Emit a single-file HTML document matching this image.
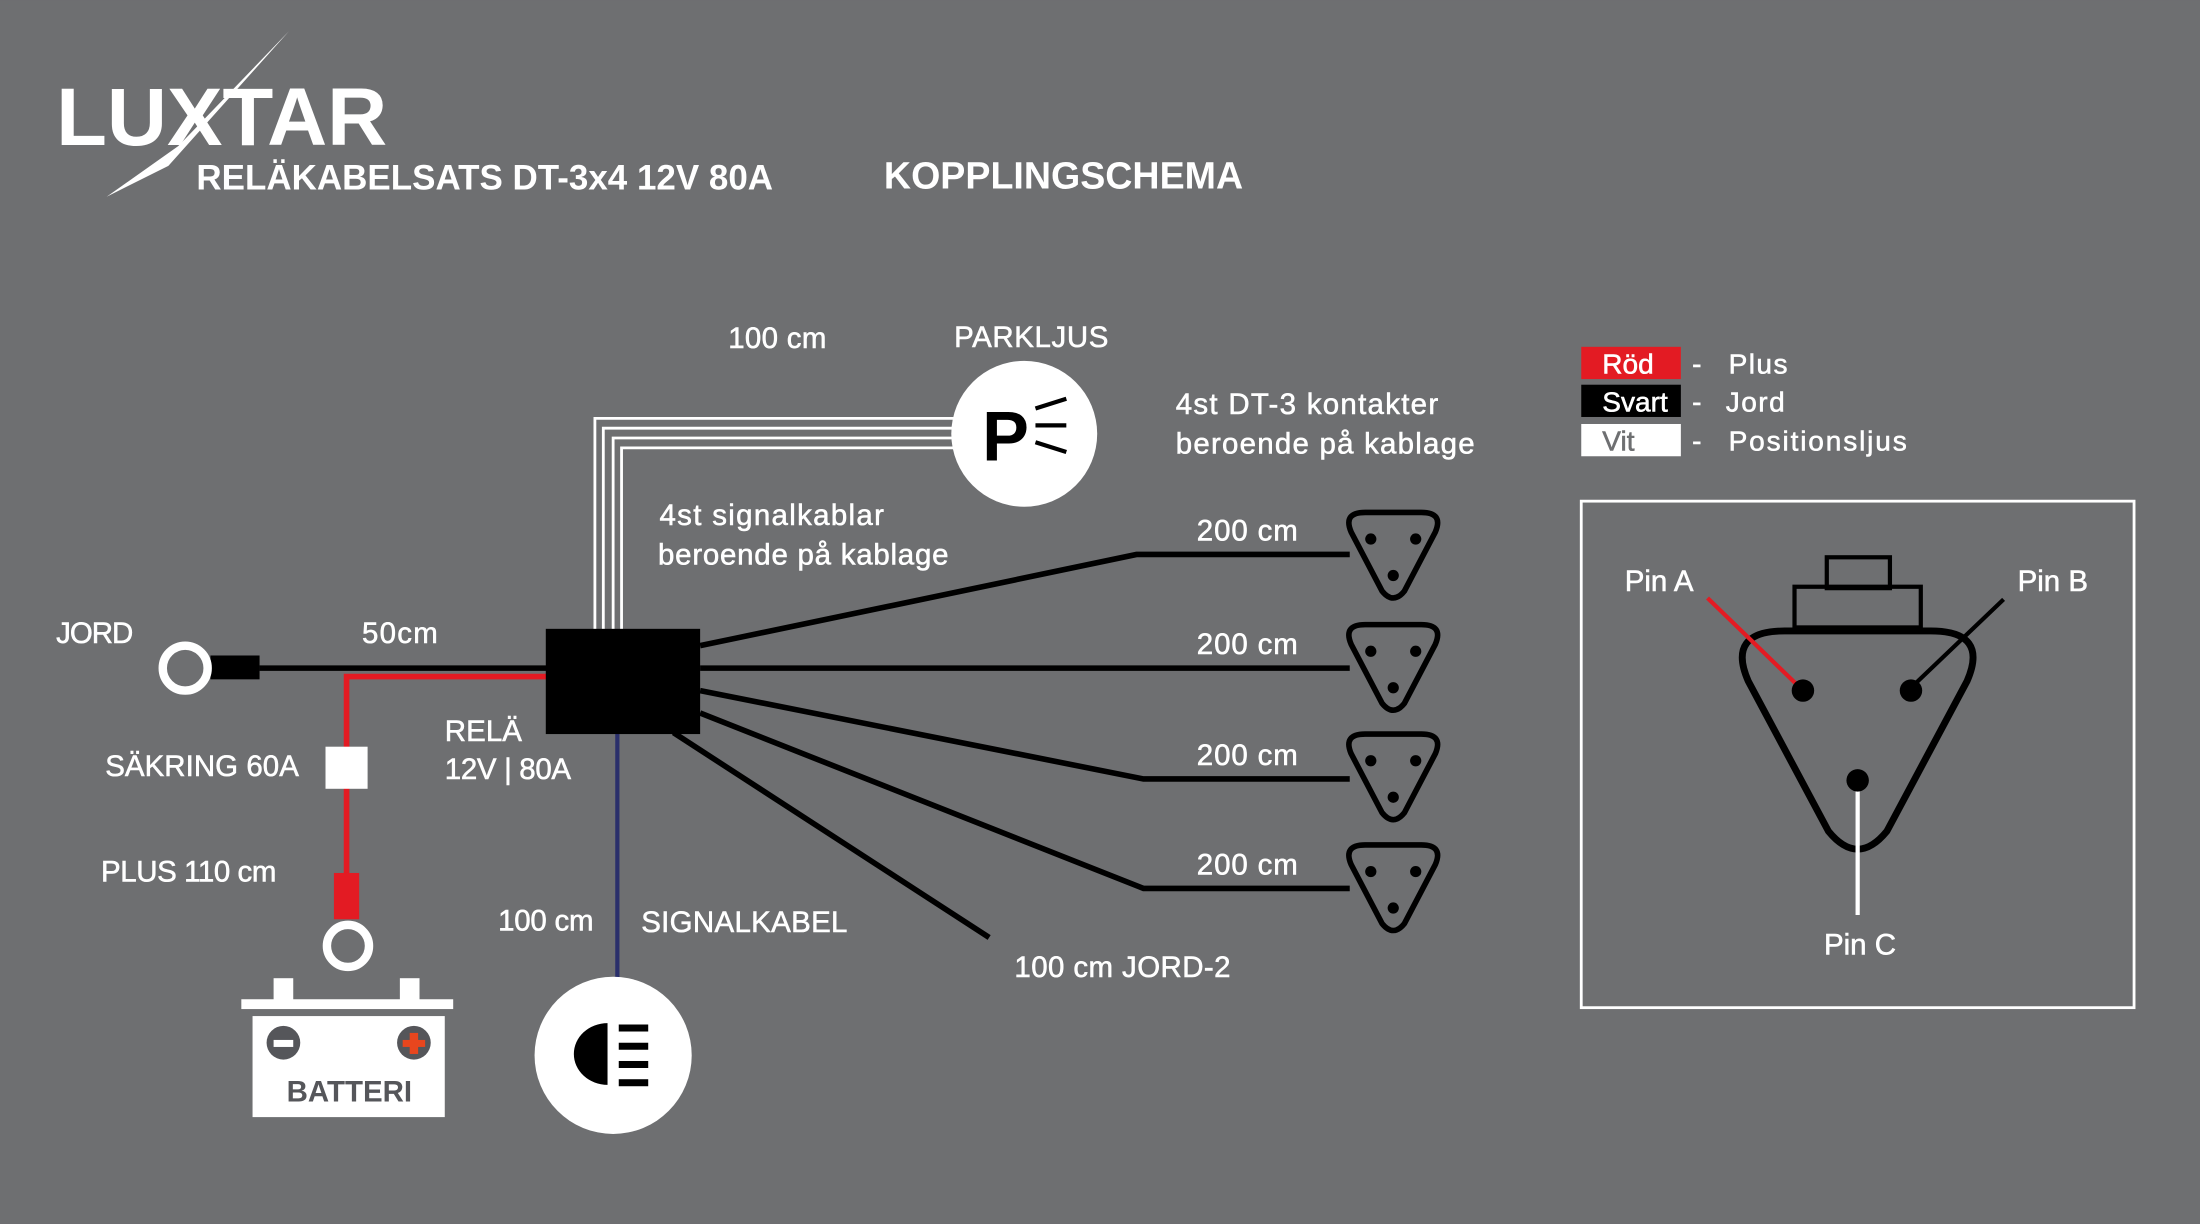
<!DOCTYPE html>
<html><head><meta charset="utf-8"><style>
html,body{margin:0;padding:0;background:#6e6f71;}
svg{display:block}
text{font-family:"Liberation Sans","DejaVu Sans",sans-serif;fill:#fff;}
.l text{stroke:#fff;stroke-width:0.4;}
</style></head><body>
<svg width="2200" height="1224" viewBox="0 0 1568 872" xmlns="http://www.w3.org/2000/svg">
<rect width="1568" height="872" fill="#6e6f71"/>
<defs>
<path id="conn" d="M-20,-30 L20,-30 Q36,-30 30,-16 L8,26 Q0,36 -8,26 L-30,-16 Q-36,-30 -20,-30 Z"/>
</defs>
<text x="40" y="103" font-size="58" font-weight="bold" textLength="236" lengthAdjust="spacingAndGlyphs">LUXTAR</text>
<polygon points="206,22 120,118 76,140 127,104" fill="#fff"/>
<text x="140" y="135" font-size="25" font-weight="bold" textLength="411" lengthAdjust="spacingAndGlyphs">RELÄKABELSATS DT-3x4 12V 80A</text>
<text x="630" y="134" font-size="27" font-weight="bold" textLength="256" lengthAdjust="spacingAndGlyphs">KOPPLINGSCHEMA</text>

<g fill="none" stroke="#fff" stroke-width="2">
<polyline points="424,450 424,298 690,298"/>
<polyline points="430,450 430,305 690,305"/>
<polyline points="437,450 437,312 690,312"/>
<polyline points="443,450 443,319 690,319"/>
</g>
<circle cx="730" cy="309" r="52" fill="#fff"/>
<text x="700" y="328" font-size="50" font-weight="bold" style="fill:#000">P</text>
<g stroke="#000" stroke-width="3"><line x1="738" y1="291" x2="760" y2="284"/><line x1="738" y1="303" x2="760" y2="303"/><line x1="738" y1="315" x2="760" y2="322"/></g>

<line x1="185" y1="476" x2="392" y2="476" stroke="#000" stroke-width="4"/>
<rect x="150" y="467" width="35" height="17" fill="#000"/>
<circle cx="132" cy="476" r="16" fill="none" stroke="#fff" stroke-width="6"/>
<polyline points="392,482 247,482 247,622" fill="none" stroke="#e31b23" stroke-width="4"/>
<rect x="232" y="532" width="30" height="30" fill="#fff"/>
<rect x="238" y="622" width="18" height="33" fill="#e31b23"/>
<circle cx="248" cy="674" r="15" fill="none" stroke="#fff" stroke-width="6"/>
<rect x="195" y="697" width="14" height="16" fill="#fff"/>
<rect x="285" y="697" width="14" height="16" fill="#fff"/>
<rect x="172" y="712" width="151" height="7" fill="#fff"/>
<rect x="180" y="724" width="137" height="72" fill="#fff"/>
<circle cx="202" cy="743" r="12" fill="#55565a"/>
<rect x="195" y="741" width="14" height="5" fill="#fff"/>
<circle cx="295" cy="743" r="12" fill="#55565a"/>
<rect x="287" y="741" width="16" height="5" fill="#e8461e"/><rect x="292" y="736" width="6" height="15" fill="#e8461e"/>
<text x="249" y="785" font-size="21" font-weight="bold" text-anchor="middle" style="fill:#55565a">BATTERI</text>

<line x1="440" y1="520" x2="440" y2="702" stroke="#2a2f6b" stroke-width="3"/>
<circle cx="437" cy="752" r="56" fill="#fff"/>
<path d="M433,729 A24,22 0 0 0 433,773 Z" fill="#000"/>
<g fill="#000"><rect x="441" y="730" width="21" height="5"/><rect x="441" y="743" width="21" height="5"/><rect x="441" y="756" width="21" height="5"/><rect x="441" y="769" width="21" height="5"/></g>

<rect x="389" y="448" width="110" height="75" fill="#000"/>
<g fill="none" stroke="#000" stroke-width="4">
<polyline points="499,460 810,395 962,395"/>
<line x1="499" y1="476" x2="962" y2="476"/>
<polyline points="499,492 815,555 962,555"/>
<polyline points="499,508 815,633 962,633"/>
<line x1="480" y1="522" x2="705" y2="668"/>
</g>
<g fill="#6e6f71" stroke="#000" stroke-width="4">
<use href="#conn" transform="translate(993,395)"/>
<use href="#conn" transform="translate(993,475)"/>
<use href="#conn" transform="translate(993,553)"/>
<use href="#conn" transform="translate(993,632)"/>
</g>
<g fill="#000">
<circle cx="977" cy="384" r="4"/><circle cx="1009" cy="384" r="4"/><circle cx="993" cy="410" r="4"/>
<circle cx="977" cy="464" r="4"/><circle cx="1009" cy="464" r="4"/><circle cx="993" cy="490" r="4"/>
<circle cx="977" cy="542" r="4"/><circle cx="1009" cy="542" r="4"/><circle cx="993" cy="568" r="4"/>
<circle cx="977" cy="621" r="4"/><circle cx="1009" cy="621" r="4"/><circle cx="993" cy="647" r="4"/>
</g>

<g font-size="21" class="l">
<text x="519" y="248" textLength="70">100 cm</text>
<text x="680" y="247" textLength="110">PARKLJUS</text>
<text x="838" y="295" textLength="187">4st DT-3 kontakter</text>
<text x="838" y="323" textLength="213">beroende  på kablage</text>
<text x="470" y="374" textLength="160">4st signalkablar</text>
<text x="469" y="402" textLength="207">beroende på kablage</text>
<text x="853" y="385" textLength="72">200 cm</text>
<text x="853" y="466" textLength="72">200 cm</text>
<text x="853" y="545" textLength="72">200 cm</text>
<text x="853" y="623" textLength="72">200 cm</text>
<text x="723" y="696" textLength="154">100 cm JORD-2</text>
<text x="40" y="458" textLength="55">JORD</text>
<text x="258" y="458" textLength="54">50cm</text>
<text x="75" y="553" textLength="138">SÄKRING 60A</text>
<text x="317" y="528" textLength="55">RELÄ</text>
<text x="317" y="555" textLength="90">12V | 80A</text>
<text x="72" y="628" textLength="125">PLUS 110 cm</text>
<text x="355" y="663" textLength="68">100 cm</text>
<text x="457" y="664" textLength="147">SIGNALKABEL</text>
</g>

<rect x="1127" y="247" width="71" height="23" fill="#e31b23"/>
<rect x="1127" y="274" width="71" height="23" fill="#000"/>
<rect x="1127" y="302" width="71" height="23" fill="#fff"/>
<g font-size="20" class="l">
<text x="1142" y="266">Röd</text>
<text x="1142" y="293">Svart</text>
<text x="1142" y="321" style="fill:#6e6f71;stroke:#6e6f71">Vit</text>
<text x="1206" y="266">-</text><text x="1206" y="293">-</text><text x="1206" y="321">-</text>
<text x="1232" y="266" textLength="42">Plus</text>
<text x="1230" y="293" textLength="42">Jord</text>
<text x="1232" y="321" textLength="127">Positionsljus</text>
</g>
<rect x="1127" y="357" width="394" height="361" fill="none" stroke="#fff" stroke-width="2"/>
<rect x="1302" y="397" width="45" height="22" fill="none" stroke="#000" stroke-width="3"/>
<rect x="1279" y="418" width="90" height="29" fill="none" stroke="#000" stroke-width="3"/>
<use href="#conn" transform="translate(1324,526) scale(2.6,2.55)" fill="#6e6f71" stroke="#000" stroke-width="1.9"/>
<line x1="1217" y1="426" x2="1283" y2="490" stroke="#e31b23" stroke-width="3"/>
<line x1="1428" y1="427" x2="1362" y2="490" stroke="#000" stroke-width="3"/>
<line x1="1324" y1="558" x2="1324" y2="652" stroke="#fff" stroke-width="3"/>
<circle cx="1285" cy="492" r="8" fill="#000"/>
<circle cx="1362" cy="492" r="8" fill="#000"/>
<circle cx="1324" cy="556" r="8" fill="#000"/>
<g font-size="21" class="l">
<text x="1158" y="421">Pin A</text>
<text x="1438" y="421">Pin B</text>
<text x="1300" y="680">Pin C</text>
</g>
</svg>
</body></html>
